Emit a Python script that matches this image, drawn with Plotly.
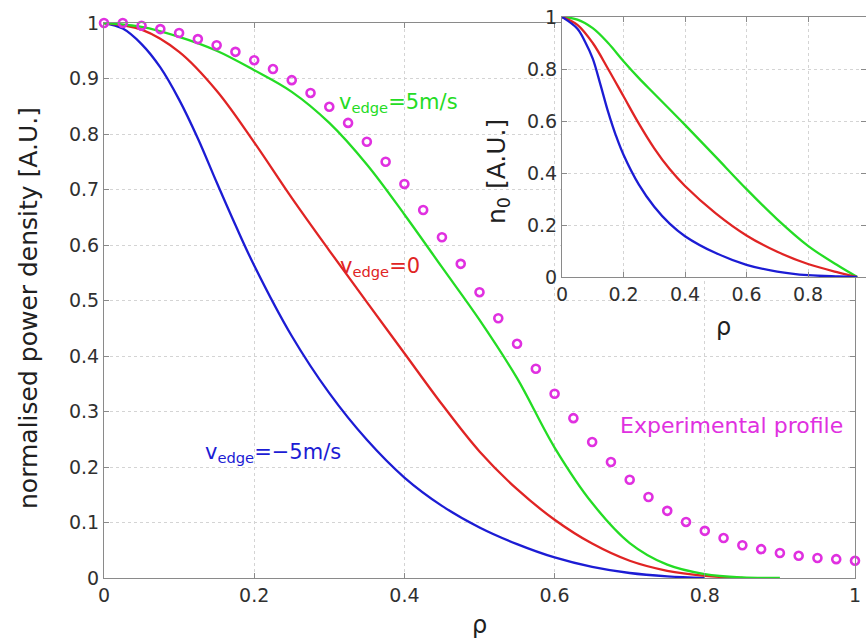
import plotly.graph_objects as go

W, H = 866, 640

# ---------------- data ----------------
rho_exp = [0.0, 0.025, 0.05, 0.075, 0.1, 0.125, 0.15, 0.175, 0.2, 0.225,
           0.25, 0.275, 0.3, 0.325, 0.35, 0.375, 0.4, 0.425, 0.45, 0.475,
           0.5, 0.525, 0.55, 0.575, 0.6, 0.625, 0.65, 0.675, 0.7, 0.725,
           0.75, 0.775, 0.8, 0.825, 0.85, 0.875, 0.9, 0.925, 0.95, 0.975, 1.0]
p_exp = [1.0, 1.0, 0.995, 0.989, 0.982, 0.971, 0.960, 0.948, 0.933, 0.917,
         0.897, 0.874, 0.849, 0.820, 0.786, 0.750, 0.710, 0.663, 0.614, 0.566,
         0.515, 0.468, 0.422, 0.377, 0.332, 0.288, 0.245, 0.209, 0.177, 0.146,
         0.121, 0.101, 0.085, 0.072, 0.059, 0.052, 0.045, 0.040, 0.036, 0.034, 0.031]

rho_blue = [0.0, 0.025, 0.05, 0.075, 0.1, 0.125, 0.15, 0.175, 0.2, 0.25, 0.3,
            0.35, 0.4, 0.45, 0.5, 0.55, 0.6, 0.65, 0.7, 0.75, 0.8]
p_blue = [1.0, 0.99, 0.962, 0.92, 0.862, 0.792, 0.713, 0.636, 0.563, 0.436, 0.333,
          0.249, 0.181, 0.13, 0.091, 0.061, 0.037, 0.02, 0.009, 0.003, 0.0]

rho_red = [0.0, 0.05, 0.1, 0.15, 0.2, 0.25, 0.3, 0.35, 0.4, 0.45, 0.5, 0.55,
           0.6, 0.65, 0.7, 0.75, 0.8, 0.85]
p_red = [1.0, 0.988, 0.948, 0.878, 0.785, 0.685, 0.59, 0.497, 0.405, 0.313, 0.228,
         0.16, 0.105, 0.062, 0.031, 0.013, 0.004, 0.0]

rho_green = [0.0, 0.05, 0.1, 0.15, 0.2, 0.25, 0.3, 0.35, 0.4, 0.45, 0.5, 0.55,
             0.6, 0.65, 0.7, 0.75, 0.8, 0.85, 0.9]
p_green = [1.0, 0.993, 0.975, 0.95, 0.915, 0.876, 0.82, 0.745, 0.655, 0.56,
           0.465, 0.36, 0.235, 0.135, 0.063, 0.024, 0.007, 0.001, 0.0]

# inset: n0 profiles
rho_nb = [0.0, 0.05, 0.075, 0.1, 0.125, 0.15, 0.175, 0.2, 0.25, 0.3, 0.35, 0.4,
          0.5, 0.6, 0.7, 0.8, 0.9, 0.96]
n_blue = [1.0, 0.955, 0.905, 0.84, 0.74, 0.635, 0.545, 0.47, 0.355, 0.27, 0.205,
          0.157, 0.092, 0.047, 0.021, 0.007, 0.002, 0.0]
rho_n = [0.0, 0.05, 0.1, 0.15, 0.2, 0.25, 0.3, 0.35, 0.4, 0.5, 0.6, 0.7, 0.8, 0.9, 0.96]
n_red = [1.0, 0.97, 0.90, 0.80, 0.695, 0.59, 0.495, 0.415, 0.35, 0.245, 0.16,
         0.097, 0.05, 0.017, 0.0]
n_green = [1.0, 0.99, 0.957, 0.90, 0.83, 0.765, 0.705, 0.645, 0.585, 0.462, 0.338,
           0.222, 0.12, 0.042, 0.0]

x_ticks = [0, 0.2, 0.4, 0.6, 0.8, 1.0]
x_ticktext = ["0", "0.2", "0.4", "0.6", "0.8", "1"]
y_ticks = [0, 0.1, 0.2, 0.3, 0.4, 0.5, 0.6, 0.7, 0.8, 0.9, 1.0]
y_ticktext = ["0", "0.1", "0.2", "0.3", "0.4", "0.5", "0.6", "0.7", "0.8", "0.9", "1"]
yi_ticks = [0, 0.2, 0.4, 0.6, 0.8, 1.0]
yi_ticktext = ["0", "0.2", "0.4", "0.6", "0.8", "1"]

# ---------------- styling ----------------
BLUE = "#1c1cd4"
RED = "#e02424"
GREEN = "#24dc24"
MAGENTA = "#e030e0"
FONT = "DejaVu Sans"
AX = "#8a8a8a"
GRID = "#d4d4d4"

def fx(p):
    return p / W

def fy(p):
    return 1 - p / H

fig = go.Figure()
for xs, ys, c in [(rho_blue, p_blue, BLUE), (rho_red, p_red, RED), (rho_green, p_green, GREEN)]:
    fig.add_trace(go.Scatter(x=xs, y=ys, mode="lines", xaxis="x", yaxis="y",
                             line=dict(color=c, width=2.3, shape="spline", smoothing=1.0),
                             hoverinfo="skip"))
fig.add_trace(go.Scatter(x=rho_exp, y=p_exp, mode="markers", xaxis="x", yaxis="y",
                         marker=dict(symbol="circle-open", size=8, color=MAGENTA,
                                     line=dict(color=MAGENTA, width=2.6)),
                         cliponaxis=False, hoverinfo="skip"))
for xs, ys, c in [(rho_n, n_green, GREEN), (rho_n, n_red, RED), (rho_nb, n_blue, BLUE)]:
    fig.add_trace(go.Scatter(x=xs, y=ys, mode="lines", xaxis="x2", yaxis="y2",
                             line=dict(color=c, width=2.3, shape="spline", smoothing=1.0),
                             hoverinfo="skip"))

axis_common = dict(showline=True, linecolor=AX, linewidth=1.2, mirror="ticks",
                   ticks="inside", ticklen=5, tickcolor=AX, tickwidth=1,
                   showgrid=True, gridcolor=GRID, griddash="dot", gridwidth=1,
                   zeroline=False, tickmode="array", automargin=False,
                   tickfont=dict(family=FONT, size=19, color="#303030"))

fig.update_layout(
    width=W, height=H, margin=dict(l=0, r=0, t=0, b=0),
    paper_bgcolor="white", plot_bgcolor="white", showlegend=False,
    xaxis=dict(domain=[fx(104), fx(855)], range=[0, 1], anchor="y",
               tickvals=x_ticks, ticktext=x_ticktext, **axis_common),
    yaxis=dict(domain=[fy(578), fy(23)], range=[0, 1], anchor="x",
               tickvals=y_ticks, ticktext=y_ticktext, **axis_common),
    xaxis2=dict(domain=[fx(562), 1.0], range=[0, (W - 562) / 307.5], anchor="y2",
                tickvals=x_ticks, ticktext=x_ticktext, **axis_common),
    yaxis2=dict(domain=[fy(277), fy(17)], range=[0, 1], anchor="x2",
                tickvals=yi_ticks, ticktext=yi_ticktext, **axis_common),
)

ann = []
def label(text, x, y, color, size, xanchor="left", ref=("x", "y"), angle=0):
    ann.append(dict(text=text, x=x, y=y, xref=ref[0], yref=ref[1], showarrow=False,
                    xanchor=xanchor, yanchor="middle", textangle=angle,
                    font=dict(family=FONT, size=size, color=color)))

label("v<sub>edge</sub>=5m/s", 0.3107, 0.855, GREEN, 21)
label("v<sub>edge</sub>=0", 0.312, 0.56, RED, 21)
label("v<sub>edge</sub>=−5m/s", 0.132, 0.225, BLUE, 21)
label("Experimental profile", 0.685, 0.274, MAGENTA, 22)
# axis titles
label("normalised power density [A.U.]", fx(28), fy(308), "#202020", 25, "center", ("paper", "paper"), -90)
label("ρ", fx(480), fy(625), "#202020", 24, "center", ("paper", "paper"))
label("n<sub>0</sub> [A.U.]", fx(498), fy(172), "#202020", 25, "center", ("paper", "paper"), -90)
label("ρ", fx(723), fy(327), "#202020", 24, "center", ("paper", "paper"))
fig.update_layout(annotations=ann)

fig.write_html("out.html")
